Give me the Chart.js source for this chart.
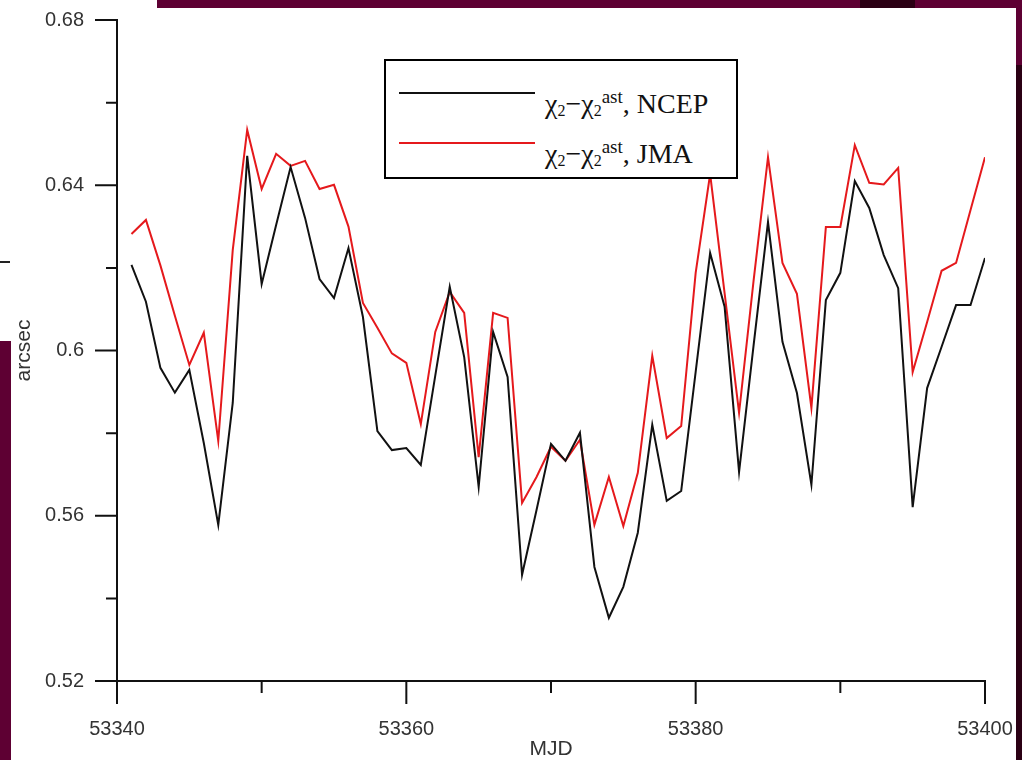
<!DOCTYPE html>
<html>
<head>
<meta charset="utf-8">
<script src="https://cdn.jsdelivr.net/npm/chart.js@4.4.1/dist/chart.umd.min.js"></script>
<style>
  html, body { margin: 0; padding: 0; }
  body { width: 1022px; height: 760px; position: relative; overflow: hidden; background: #5e0033; }
  .blk { position: absolute; }
  #legend { position: absolute; left: 384px; top: 59px; width: 350px; height: 116px; border: 2px solid #000; background: #fff;
            font-family: "Liberation Serif", "Times New Roman", serif; font-size: 28px; color: #111; }
  #legend .row { position: absolute; left: 0; height: 30px; }
  #legend .swatch { position: absolute; left: 13px; width: 136px; height: 2px; }
  #legend .lbl { position: absolute; left: 159px; white-space: nowrap; line-height: 30px; }
  #legend sub { font-size: 16px; vertical-align: -3px; }
  #legend sup { font-size: 19px; vertical-align: 10px; }
</style>
</head>
<body>
<div class="blk" style="left:0;top:0;width:157px;height:8px;background:#fff"></div>
<div class="blk" style="left:0;top:0;width:11px;height:341px;background:#fff"></div>
<div class="blk" style="left:0;top:261px;width:10px;height:2px;background:#222"></div>
<div class="blk" style="left:1016px;top:65px;width:6px;height:695px;background:#2b0014"></div>
<div class="blk" style="left:860px;top:0;width:55px;height:8px;background:#2b0014"></div>
<div class="blk" style="left:11px;top:8px;width:1005px;height:752px;background:#fff"></div>
<div class="blk" style="left:0;top:0;width:1022px;height:760px"><canvas id="chart"></canvas></div>
<div id="legend">
  <div class="row" style="top:18px">
    <div class="swatch" style="top:13px;background:#111"></div>
    <div class="lbl" style="top:3px">χ<sub>2</sub>−χ<sub>2</sub><sup>ast</sup>, NCEP</div>
  </div>
  <div class="row" style="top:68px">
    <div class="swatch" style="top:13px;background:#e5191c"></div>
    <div class="lbl" style="top:3px">χ<sub>2</sub>−χ<sub>2</sub><sup>ast</sup>, JMA</div>
  </div>
</div>
<script>
const mjd = [53341, 53342, 53343, 53344, 53345, 53346, 53347, 53348, 53349, 53350,
             53351, 53352, 53353, 53354, 53355, 53356, 53357, 53358, 53359, 53360,
             53361, 53362, 53363, 53364, 53365, 53366, 53367, 53368, 53369, 53370,
             53371, 53372, 53373, 53374, 53375, 53376, 53377, 53378, 53379, 53380,
             53381, 53382, 53383, 53384, 53385, 53386, 53387, 53388, 53389, 53390,
             53391, 53392, 53393, 53394, 53395, 53396, 53397, 53398, 53399, 53400];

const ncep = [0.6207, 0.6118, 0.5958, 0.5898, 0.5953, 0.5776, 0.5578, 0.5873, 0.6471, 0.6161,
              0.6304, 0.6444, 0.6321, 0.6173, 0.6127, 0.6248, 0.6081, 0.5805, 0.5759, 0.5764,
              0.5723, 0.5939, 0.6154, 0.5984, 0.5670, 0.6045, 0.5936, 0.5457, 0.5614, 0.5774,
              0.5733, 0.5801, 0.5476, 0.5353, 0.5428, 0.5559, 0.5820, 0.5636, 0.5660, 0.5948,
              0.6236, 0.6106, 0.5706, 0.6011, 0.6311, 0.6021, 0.5897, 0.5675, 0.6122, 0.6188,
              0.6410, 0.6345, 0.6231, 0.6151, 0.5621, 0.5909, 0.6009, 0.6110, 0.6110, 0.6224];

const jma = [0.6282, 0.6316, 0.6206, 0.6084, 0.5965, 0.6043, 0.5781, 0.6243, 0.6534, 0.6391,
             0.6476, 0.6447, 0.6459, 0.6391, 0.6401, 0.6300, 0.6115, 0.6055, 0.5993, 0.5970,
             0.5822, 0.6045, 0.6142, 0.6091, 0.5742, 0.6091, 0.6079, 0.5631, 0.5694, 0.5767,
             0.5733, 0.5784, 0.5578, 0.5694, 0.5575, 0.5704, 0.5987, 0.5788, 0.5817, 0.6188,
             0.6427, 0.6139, 0.5849, 0.6168, 0.6468, 0.6212, 0.6137, 0.5861, 0.6299, 0.6299,
             0.6497, 0.6406, 0.6402, 0.6442, 0.5948, 0.6069, 0.6193, 0.6212, 0.6340, 0.6468];

// tick positions (major ones get labels)
const xMajor = [53340, 53360, 53380, 53400];
const xMinor = [53350, 53370, 53390];
const yMajor = [0.52, 0.56, 0.60, 0.64, 0.68];
const yMinor = [0.54, 0.58, 0.62, 0.66];

const axisFont = { family: "'Liberation Sans', Arial, sans-serif", size: 20 };

// outward tick marks, long for major and short for minor
const tickMarks = {
    id: "tickMarks",
    afterDraw(chart) {
        const ctx = chart.ctx;
        const xs = chart.scales.x, ys = chart.scales.y;
        const left = chart.chartArea.left, bottom = chart.chartArea.bottom;
        ctx.save();
        ctx.strokeStyle = "#111";
        ctx.lineWidth = 2;
        ctx.beginPath();
        xMajor.forEach(v => { const p = xs.getPixelForValue(v); ctx.moveTo(p, bottom); ctx.lineTo(p, bottom + 23); });
        xMinor.forEach(v => { const p = xs.getPixelForValue(v); ctx.moveTo(p, bottom); ctx.lineTo(p, bottom + 12); });
        yMajor.forEach(v => { const p = ys.getPixelForValue(v); ctx.moveTo(left, p); ctx.lineTo(left - 22, p); });
        yMinor.forEach(v => { const p = ys.getPixelForValue(v); ctx.moveTo(left, p); ctx.lineTo(left - 11, p); });
        ctx.stroke();
        ctx.restore();
    }
};

const ctx = document.getElementById("chart").getContext("2d");
new Chart(ctx, {
    type: "line",
    data: {
        datasets: [
            {
                label: "NCEP",
                data: mjd.map((d, i) => ({ x: d, y: ncep[i] })),
                borderColor: "#111",
                borderWidth: 2,
                pointRadius: 0,
                tension: 0
            },
            {
                label: "JMA",
                data: mjd.map((d, i) => ({ x: d, y: jma[i] })),
                borderColor: "#e5191c",
                borderWidth: 2,
                pointRadius: 0,
                tension: 0
            }
        ]
    },
    options: {
        responsive: true,
        maintainAspectRatio: false,
        animation: false,
        layout: { padding: { left: 0, top: 20, right: 37, bottom: 0 } },
        plugins: { legend: { display: false }, tooltip: { enabled: false } },
        scales: {
            x: {
                type: "linear",
                min: 53340,
                max: 53400,
                afterFit(scale) { scale.height = 79; },
                // invisible grid ticks only push the labels away from the axis
                grid: { display: true, drawOnChartArea: false, drawTicks: true, tickLength: 33, tickColor: "rgba(0,0,0,0)" },
                border: { display: true, color: "#111", width: 2 },
                ticks: {
                    stepSize: 20,
                    padding: 3,
                    color: "#333",
                    font: axisFont,
                    maxRotation: 0,
                    callback: v => String(v)
                },
                title: { display: true, text: "MJD", color: "#333", font: { family: axisFont.family, size: 21 }, padding: { top: 0, bottom: -2 } }
            },
            y: {
                min: 0.52,
                max: 0.68,
                afterFit(scale) { scale.width = 117; },
                grid: { display: true, drawOnChartArea: false, drawTicks: true, tickLength: 30, tickColor: "rgba(0,0,0,0)" },
                border: { display: true, color: "#111", width: 2 },
                ticks: {
                    stepSize: 0.04,
                    padding: 3,
                    color: "#333",
                    font: axisFont,
                    callback: v => String(+v.toFixed(2))
                },
                title: { display: true, text: "arcsec", color: "#333", font: { family: axisFont.family, size: 21 }, padding: { top: 12, bottom: 0 } }
            }
        }
    },
    plugins: [tickMarks]
});
</script>
</body>
</html>
